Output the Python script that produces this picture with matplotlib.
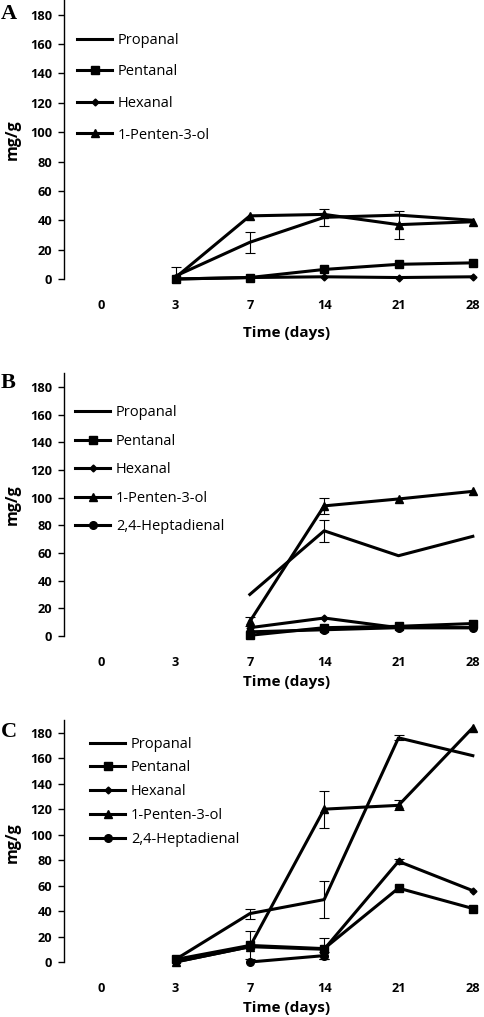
import numpy as np
import matplotlib.pyplot as plt

nan = np.nan

days = ['0', '3', '7', '14', '21', '28']

# panel A
a_propanal = [nan, 2, 25, 42, 43.5, 40]
a_propanal_err = [0, 6, 7, 6, 0, 0]
a_pentanal = [nan, 0, 1, 6.5, 10, 11]
a_hexanal = [nan, 0, 1, 1.5, 1, 1.5]
a_pentenol = [nan, 1, 43, 44, 37, 39]
a_pentenol_err = [0, 0, 0, 0, 9.5, 0]

# panel B
b_propanal = [nan, nan, 30, 76, 58, 72]
b_propanal_err = [0, 0, 0, 8, 0, 0]
b_pentanal = [nan, nan, 0.5, 6, 7, 9]
b_hexanal = [nan, nan, 6, 13, 6, 6]
b_pentenol = [nan, nan, 10.5, 94, 99, 104.5]
b_pentenol_err = [0, 0, 3, 6, 0, 0]
b_heptadienal = [nan, nan, 3, 4.5, 6, 6]

# panel C
c_propanal = [nan, 2, 38, 49, 176, 162]
c_propanal_err = [0, 0, 4, 14.5, 2, 0]
c_pentanal = [nan, 2, 13, 10.5, 58, 42]
c_pentanal_err = [0, 0, 11, 8, 0, 0]
c_hexanal = [nan, 0, 12, 10, 79, 56]
c_hexanal_err = [0, 0, 0, 0, 2, 0]
c_pentenol = [nan, 0, 12, 120, 123, 184]
c_pentenol_err = [0, 0, 0, 14.5, 4, 0]
c_heptadienal = [nan, nan, 0, 5, nan, nan]
c_heptadienal_err = [0, 0, 0, 3, 0, 0]

styles = {
    'Propanal': dict(marker=None),
    'Pentanal': dict(marker='s', markersize=5.5),
    'Hexanal': dict(marker='D', markersize=3.5),
    '1-Penten-3-ol': dict(marker='^', markersize=5.5),
    '2,4-Heptadienal': dict(marker='o', markersize=5.5),
}

W, H = 484, 1017
fig = plt.figure(figsize=(W / 100, H / 100), dpi=100)
sans = 'Open Sans'
x = np.arange(len(days))


def px_axes(top, bottom):
    return fig.add_axes([64 / W, 1 - bottom / H, (510 - 64) / W, (bottom - top) / H])


def panel(ax, series, letter, leg_x, leg_top, spacing, y_px, time_y):
    for name, vals, err in series:
        st = styles[name]
        ax.plot(x, vals, color='black', lw=2.2, label=name,
                clip_on=False, zorder=3, **st)
        if err is not None:
            e = np.array(err, dtype=float)
            v = np.array(vals, dtype=float)
            m = e > 0
            ax.errorbar(x[m], v[m], yerr=e[m], fmt='none', ecolor='black',
                        elinewidth=0.8, capsize=3.5, capthick=0.8, zorder=2)
    ax.set_xlim(-0.5, 5.5)
    ax.set_ylim(0, 190)
    ax.set_yticks(range(0, 181, 20))
    ax.set_xticks(x)
    ax.set_xticklabels(days)
    for s in ['top', 'right', 'bottom']:
        ax.spines[s].set_visible(False)
    ax.spines['left'].set_linewidth(1.0)
    ax.tick_params(axis='y', length=4.5, width=1.0, pad=4)
    ax.tick_params(axis='x', length=0, pad=14.5)
    for lab in ax.get_xticklabels() + ax.get_yticklabels():
        lab.set_fontfamily(sans)
        lab.set_fontweight('bold')
        lab.set_fontsize(9.2)
    ax.patch.set_visible(False)
    ax.legend(loc='upper left', bbox_to_anchor=(leg_x / W, 1 - leg_top / H),
              bbox_transform=fig.transFigure, frameon=False,
              borderpad=0, borderaxespad=0, handlelength=2.4,
              handletextpad=0.4, labelspacing=spacing,
              prop=dict(family=sans, size=10.5))
    fig.text(1 / W, 1 - y_px[0] / H, letter, family='Liberation Serif',
             weight='bold', size=16, ha='left', va='center')
    fig.text(13 / W, 1 - y_px[1] / H, 'mg/g', family=sans, weight='bold',
             size=11.5, rotation=90, ha='center', va='center')
    fig.text(287 / W, 1 - time_y / H, 'Time (days)', family=sans,
             weight='bold', size=11, ha='center', va='center')


axA = px_axes(0, 279)
panel(axA, [('Propanal', a_propanal, a_propanal_err),
            ('Pentanal', a_pentanal, None),
            ('Hexanal', a_hexanal, None),
            ('1-Penten-3-ol', a_pentenol, a_pentenol_err)],
      'A', 77, 32.7, 1.14, (14, 140), 333)

axB = px_axes(373, 636)
panel(axB, [('Propanal', b_propanal, b_propanal_err),
            ('Pentanal', b_pentanal, None),
            ('Hexanal', b_hexanal, None),
            ('1-Penten-3-ol', b_pentenol, b_pentenol_err),
            ('2,4-Heptadienal', b_heptadienal, None)],
      'B', 75, 405.4, 0.92, (383, 505), 682)

axC = px_axes(720, 962)
panel(axC, [('Propanal', c_propanal, c_propanal_err),
            ('Pentanal', c_pentanal, c_pentanal_err),
            ('Hexanal', c_hexanal, c_hexanal_err),
            ('1-Penten-3-ol', c_pentenol, c_pentenol_err),
            ('2,4-Heptadienal', c_heptadienal, c_heptadienal_err)],
      'C', 90, 736.7, 0.6, (732, 843), 1008)

fig.savefig('out.png', dpi=100)
